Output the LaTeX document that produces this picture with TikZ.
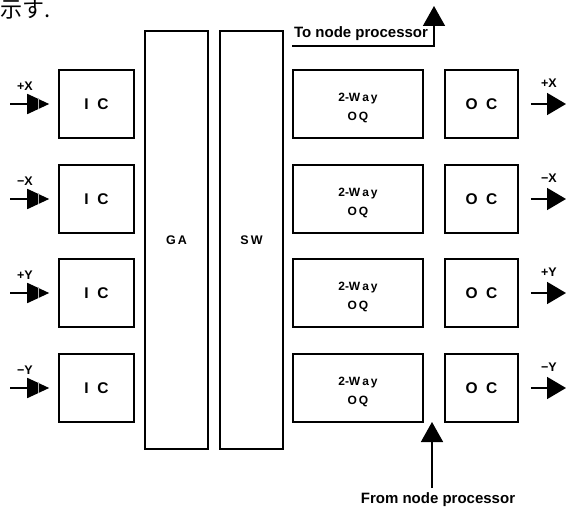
\documentclass[tikz,border=0pt]{standalone}
\usepackage{fontspec}
\setmainfont{Liberation Sans}
\newfontfamily\cjk{Noto Sans CJK JP}
\usetikzlibrary{arrows.meta}
\begin{document}
\begin{tikzpicture}[x=1pt,y=-1pt,line width=1.6pt,
  box/.style={draw,line width=1.6pt,inner sep=0pt,align=center},
  ic/.style={box,minimum width=75pt,minimum height=68pt,font=\bfseries\fontsize{15.5}{15.5}\selectfont},
  oq/.style={box,minimum width=130pt,minimum height=68pt,font=\bfseries\fontsize{12}{19}\selectfont},
  oc/.style={box,minimum width=73pt,minimum height=68pt,font=\bfseries\fontsize{15.5}{15.5}\selectfont},
  tall/.style={box,minimum width=63pt,minimum height=418pt,font=\bfseries\fontsize{12.5}{12.5}\selectfont},
  dirlbl/.style={font=\bfseries\fontsize{12.5}{12.5}\selectfont,inner sep=0pt},
  inarr/.style={line width=1.8pt,-{Triangle[length=22pt,width=20pt]},shorten >=9pt},
  outarr/.style={line width=1.8pt,-{Triangle[length=19pt,width=22pt]},shorten <=12pt},
  procarr/.style={line width=1.6pt,-{Triangle[length=20pt,width=22pt]}},
  proclbl/.style={font=\bfseries\fontsize{15}{15}\selectfont,inner sep=0pt}]
\useasboundingbox (0,0) rectangle (566,508);
\fill[white] (0,0) rectangle (566,508);

\node[anchor=base west,inner sep=0pt,font=\cjk\fontsize{22}{22}\selectfont] (jp) at (0,18) {示す.};

\node[tall] (GA) at (176.5,240) {G\,A};
\node[tall] (SW) at (251.5,240) {S\,W};

\foreach \i/\y/\d in {1/104/{+X},2/199/{−X},3/293/{+Y},4/388/{−Y}}{
  \node[ic] (IC\i) at (96.5,\y) {I~~C};
  \node[oq] (OQ\i) at (358,\y) {};
  \node[oc] (OC\i) at (481.5,\y) {O~~C};
  \node[oq,draw=none,minimum width=0pt,minimum height=0pt] (OQt\i) at (358,\y+4) {2-W\,a\,y\\O\,Q};
  \coordinate (in\i) at (10,\y);
  \coordinate (out\i) at (566,\y);
  \draw[inarr] (in\i) -- (IC\i.west);
  \draw[gray!60,line width=1.1pt] (38.5,\y-5.5) -- (38.5,\y+5.5);
  \draw[outarr] (OC\i.east) -- (out\i);
  \node[dirlbl] (inl\i) at (25,\y-18) {\d};
  \node[dirlbl] (outl\i) at (549,\y-21) {\d};
}

\coordinate (tn0) at (292,46);
\coordinate (tn1) at (434,46);
\coordinate (tn2) at (434,6);
\draw[procarr] (tn0) -- (tn1) -- (tn2);
\node[proclbl] (tolbl) at (361,34) {To node processor};

\coordinate (fn0) at (432,488);
\coordinate (fn1) at (432,422);
\draw[procarr] (fn0) -- (fn1);
\node[proclbl] (fromlbl) at (438,500) {From node processor};
\end{tikzpicture}
\end{document}
